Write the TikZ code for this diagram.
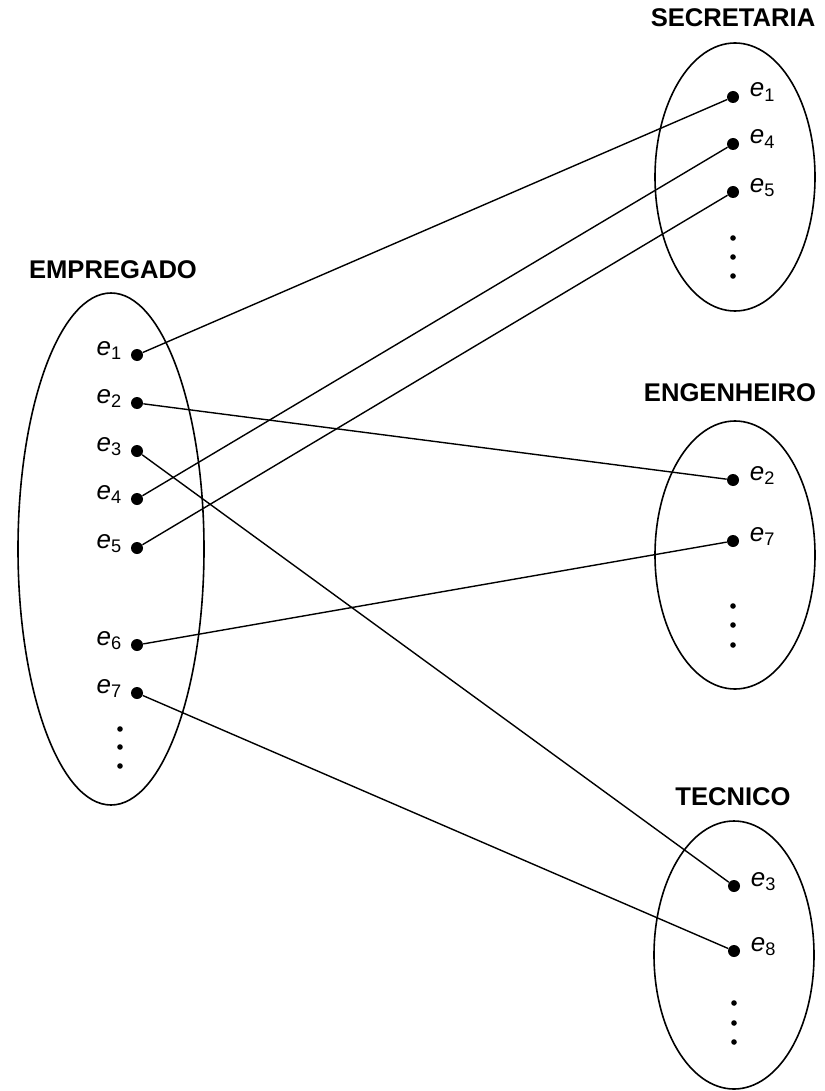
\documentclass[tikz,border=0pt]{standalone}
\usepackage{fontspec}
\setmainfont{Liberation Sans}
\usetikzlibrary{shapes.geometric,positioning}

\tikzset{
  conjunto/.style={draw, ellipse, line width=0.8pt, inner sep=0pt},
  titulo/.style={font=\bfseries\fontsize{12.8}{15}\selectfont},
  elem/.style={circle, fill, inner sep=0pt, minimum size=6pt},
  ponto/.style={circle, fill, inner sep=0pt, minimum size=2.8pt},
  rotulo/.style={font=\fontsize{13}{15}\selectfont, inner sep=0pt},
  liga/.style={line width=0.7pt}
}
\newcommand{\ent}[1]{\textit{e}\textsubscript{#1}}

\begin{document}
\begin{tikzpicture}[x=0.5pt, y=-0.5pt]
    \useasboundingbox (0,0) rectangle (824,1091);

    % conjuntos
    \node[conjunto, minimum width=93pt, minimum height=256pt] (empregado) at (111,549) {};
    \node[conjunto, minimum width=80pt, minimum height=134pt] (secretaria) at (735,177) {};
    \node[conjunto, minimum width=80pt, minimum height=134pt] (engenheiro) at (735,555) {};
    \node[conjunto, minimum width=80pt, minimum height=134pt] (tecnico) at (734,955) {};

    \node[titulo] (tempregado) at (113,270) {EMPREGADO};
    \node[titulo] (tsecretaria) at (733,18) {SECRETARIA};
    \node[titulo] (tengenheiro) at (730,393) {ENGENHEIRO};
    \node[titulo] (ttecnico) at (733,797) {TECNICO};

    % EMPREGADO
    \node[elem] (emp1) at (137,355) {};
    \node[elem] (emp2) at (137,403) {};
    \node[elem] (emp3) at (137,451) {};
    \node[elem] (emp4) at (137,499) {};
    \node[elem] (emp5) at (137,548) {};
    \node[elem] (emp6) at (137,645) {};
    \node[elem] (emp7) at (137,693) {};
    \node[rotulo, mid left=4pt of emp1] (lemp1) {\ent{1}};
    \node[rotulo, mid left=4pt of emp2] (lemp2) {\ent{2}};
    \node[rotulo, mid left=4pt of emp3] (lemp3) {\ent{3}};
    \node[rotulo, mid left=4pt of emp4] (lemp4) {\ent{4}};
    \node[rotulo, mid left=4pt of emp5] (lemp5) {\ent{5}};
    \node[rotulo, mid left=4pt of emp6] (lemp6) {\ent{6}};
    \node[rotulo, mid left=4pt of emp7] (lemp7) {\ent{7}};

    % SECRETARIA
    \node[elem] (sec1) at (733,97) {};
    \node[elem] (sec4) at (733,144) {};
    \node[elem] (sec5) at (733,192) {};
    \node[rotulo, mid right=5pt of sec1] (lsec1) {\ent{1}};
    \node[rotulo, mid right=5pt of sec4] (lsec4) {\ent{4}};
    \node[rotulo, mid right=5pt of sec5] (lsec5) {\ent{5}};

    % ENGENHEIRO
    \node[elem] (eng2) at (733,480) {};
    \node[elem] (eng7) at (733,541) {};
    \node[rotulo, mid right=5pt of eng2] (leng2) {\ent{2}};
    \node[rotulo, mid right=5pt of eng7] (leng7) {\ent{7}};

    % TECNICO
    \node[elem] (tec3) at (734,886) {};
    \node[elem] (tec8) at (734,951) {};
    \node[rotulo, mid right=5pt of tec3] (ltec3) {\ent{3}};
    \node[rotulo, mid right=5pt of tec8] (ltec8) {\ent{8}};

    % reticencias
    \foreach \y [count=\i] in {729,747,766} \node[ponto] (rem\i) at (120,\y) {};
    \foreach \y [count=\i] in {238,257,276} \node[ponto] (rsec\i) at (733,\y) {};
    \foreach \y [count=\i] in {606,625,645} \node[ponto] (reng\i) at (733,\y) {};
    \foreach \y [count=\i] in {1003,1023,1042} \node[ponto] (rtec\i) at (734,\y) {};

    % ligacoes
    \draw[liga] (emp1) -- (sec1);
    \draw[liga] (emp4) -- (sec4);
    \draw[liga] (emp5) -- (sec5);
    \draw[liga] (emp2) -- (eng2);
    \draw[liga] (emp6) -- (eng7);
    \draw[liga] (emp3) -- (tec3);
    \draw[liga] (emp7) -- (tec8);
\end{tikzpicture}
\end{document}
